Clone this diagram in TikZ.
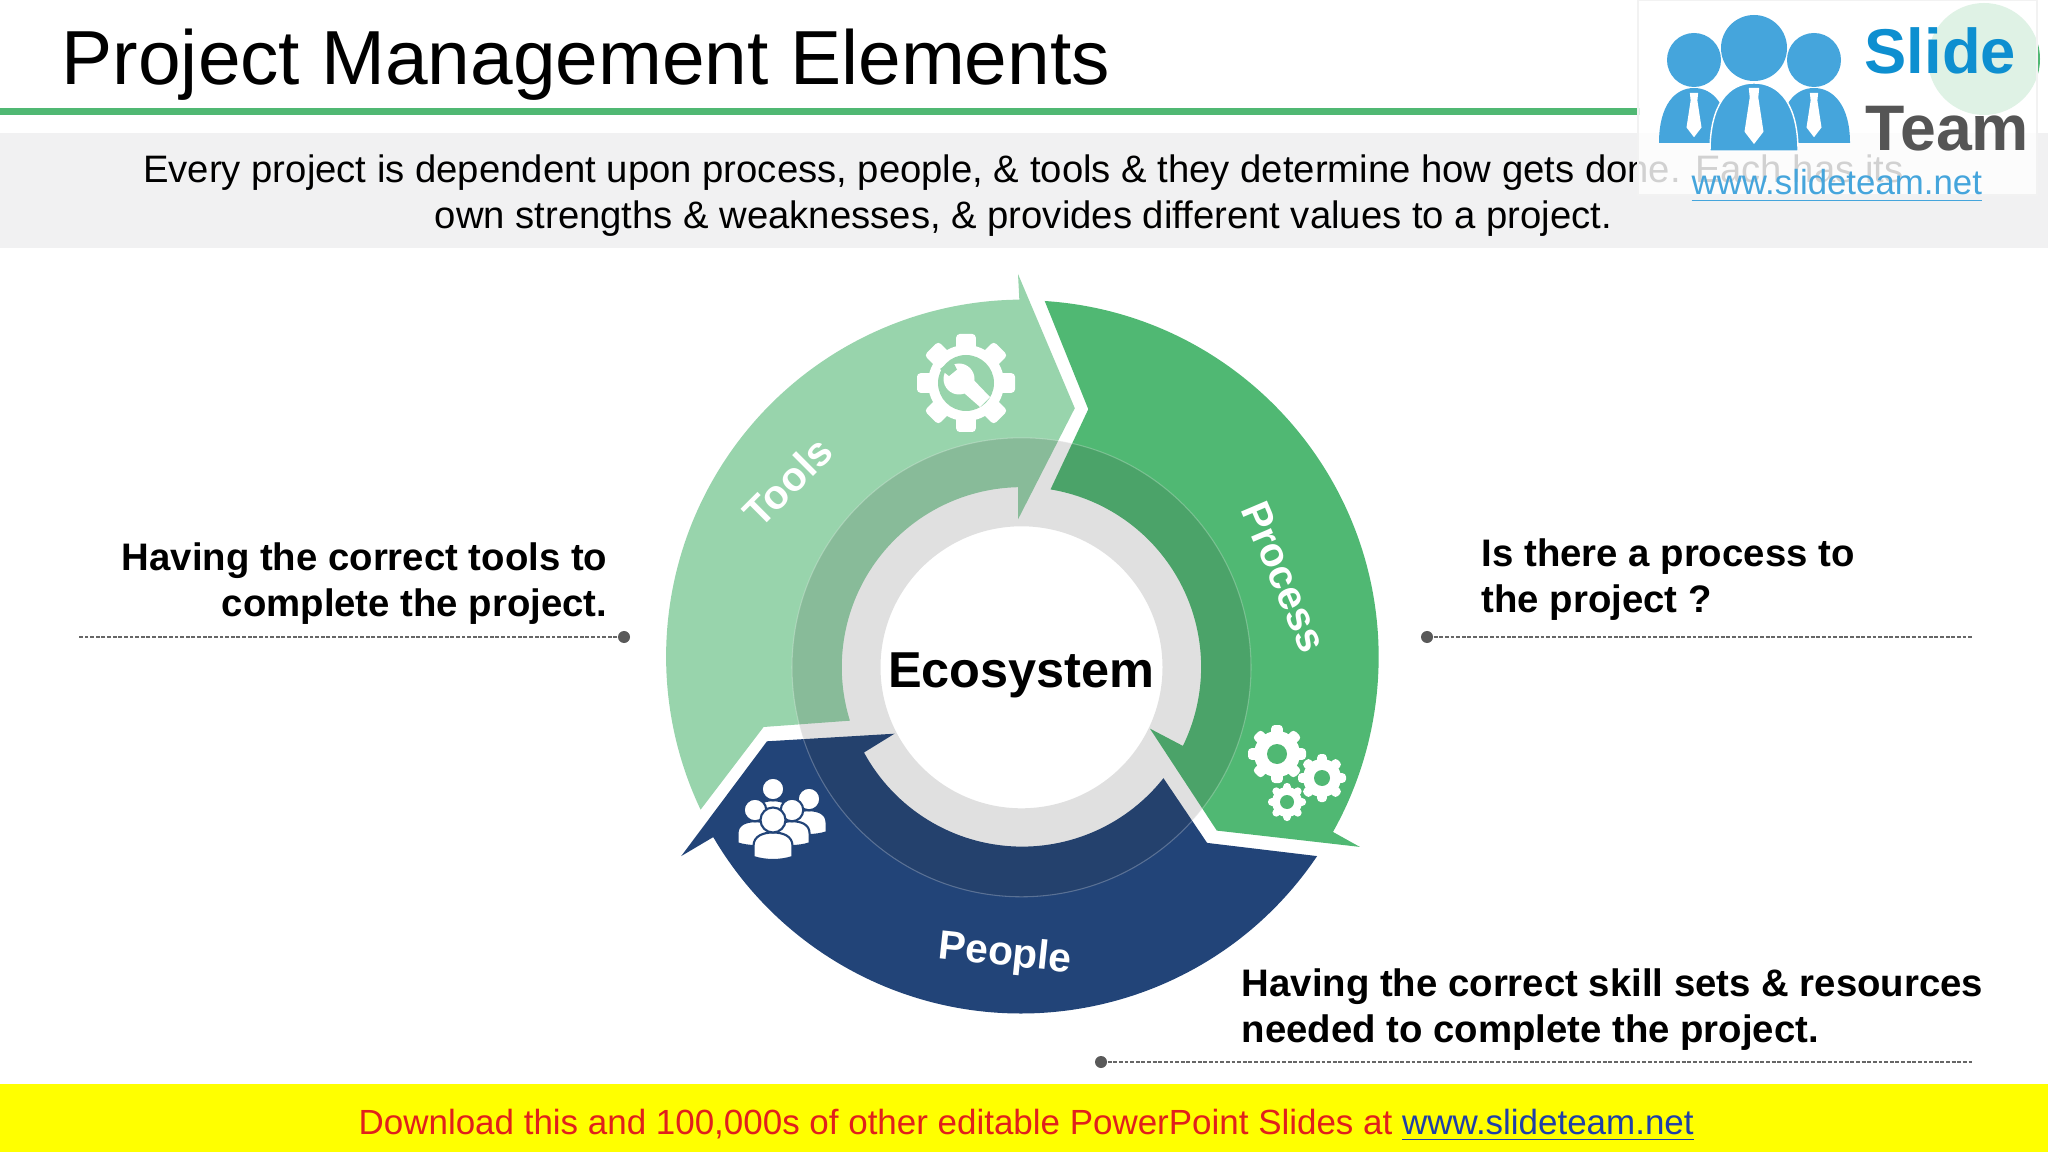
\documentclass[tikz,border=0pt]{standalone}
\usepackage{fontspec}
\setmainfont{Liberation Sans}
\definecolor{toolsc}{HTML}{98D4AC}
\definecolor{processc}{HTML}{50B873}
\definecolor{peoplec}{HTML}{224478}
\definecolor{ringc}{HTML}{303030}
\definecolor{logoc}{HTML}{45A5DC}
\definecolor{slidec}{HTML}{0E8FD0}
\definecolor{teamc}{HTML}{555555}
\definecolor{bandc}{HTML}{F1F1F2}
\definecolor{jaune}{HTML}{FFFF00}
\definecolor{rouge}{HTML}{E0201C}
\definecolor{lien}{HTML}{1F3FA8}

\newcommand{\gearicon}[6]{
	\begin{scope}[shift={(#1,#2)}]
		\fill[white] (0,0) circle (#4);
		\foreach \a in {0,45,...,315} {
			\fill[white, rounded corners=1pt, rotate=\a] (-#3*0.2,0) rectangle (#3*0.2,#3);
		}
		\fill[#6] (0,0) circle (#5);
	\end{scope}
}
\newcommand{\personicon}[3]{
	\begin{scope}[shift={(#1,#2)}, scale=#3]
		\filldraw[white, draw=peoplec, line width=0.6pt] (-19.5,-38) -- (-19.5,-26) .. controls (-19.5,-16) and (-10,-12.5) .. (0,-12.5) .. controls (10,-12.5) and (19.5,-16) .. (19.5,-26) -- (19.5,-37) .. controls (8,-41) and (-8,-41) .. (-19.5,-37) -- cycle;
		\filldraw[white, draw=peoplec, line width=0.6pt] (0,0) circle (12.5);
	\end{scope}
}
\newcommand{\tieicon}[3]{
	\fill[white] (#1-#3*0.55,#2) -- (#1+#3*0.55,#2) -- (#1+#3*0.45,#2-#3) -- (#1+#3,#2-#3*4.6) -- (#1,#2-#3*5.9) -- (#1-#3,#2-#3*4.6) -- (#1-#3*0.45,#2-#3) -- cycle;
}

\begin{document}
\begin{tikzpicture}[x=0.01cm, y=0.01cm]
	\tikzset{titre/.style={inner sep=0, font=\fontsize{21.8}{26}\selectfont},
		soustitre/.style={inner sep=0, align=center, font=\fontsize{10.88}{13.1}\selectfont},
		note/.style={inner sep=0, font=\bfseries\fontsize{10.9}{13.1}\selectfont},
		etiquette/.style={inner sep=0, text=white, font=\bfseries\fontsize{11.6}{13}\selectfont},
		leader/.style={dash pattern=on 1.1pt off 0.5pt, draw=black!60, line width=0.35pt},
		dot/.style={circle, fill=black!65, inner sep=0, minimum size=0.12cm}};

	\useasboundingbox (0,0) rectangle (2048,-1152);

	% bands
	\fill[bandc] (0,-133) rectangle (2048,-248);
	\fill[jaune] (0,-1084) rectangle (2048,-1152);
	\fill[processc] (0,-108.5) rectangle (1640,-115.5);
	\fill[processc] (1984,-59) circle (56);

	\node[titre, anchor=base west] (title) at (61,-85) {Project Management Elements};
	\node[soustitre] (sub) at (1023.5,-195.6) {Every project is dependent upon process, people, \& tools \& they determine how gets done. Each has its\\own strengths \& weaknesses, \& provides different values to a project.};

	% logo
	\fill[white, fill opacity=0.82, draw=black!5] (1638,0) rectangle (2037,-195);
	\fill[logoc] (1694,-60) circle (27);
	\fill[logoc] (1814,-60) circle (27);
	\fill[logoc] (1754,-48) circle (33);
	\fill[logoc] (1659,-143) .. controls (1659,-105) and (1675,-88) .. (1694,-88) .. controls (1713,-88) and (1729,-105) .. (1729,-143) -- cycle;
	\fill[logoc] (1779,-143) .. controls (1779,-105) and (1795,-88) .. (1814,-88) .. controls (1833,-88) and (1850,-105) .. (1850,-143) -- cycle;
	\filldraw[logoc, draw=white, line width=0.4pt] (1710,-151) .. controls (1710,-105) and (1728,-83) .. (1754,-83) .. controls (1780,-83) and (1798,-105) .. (1798,-151) -- cycle;
	\tieicon{1694}{-93}{7.5}
	\tieicon{1754}{-88}{9.5}
	\tieicon{1814}{-93}{7.5}
	\node[inner sep=0, anchor=base west, text=slidec, font=\bfseries\fontsize{18}{20}\selectfont] (slide) at (1864,-74) {Slide};
	\node[inner sep=0, anchor=base west, text=teamc, font=\bfseries\fontsize{18.3}{20}\selectfont] (team) at (1865,-151) {Team};
	\node[inner sep=0, anchor=base west, text=logoc, font=\fontsize{9.9}{12}\selectfont] (url) at (1691,-195) {\underline{www.slideteam.net}};

	% arrows
	\fill[toolsc] (700.6,-809.7) arc[start angle=205.4, end angle=90.6, radius=357] -- (1018,-274) -- (1074.8,-408.2) -- (1018,-519.4) -- (1018,-487.2) arc[start angle=91.2, end angle=197.3, radius=180] -- (763.6,-727) -- cycle;
	\fill[processc] (1044.7,-301) arc[start angle=86.3, end angle=-29.3, radius=357] -- (1359.8,-846.9) -- (1216.8,-830.6) -- (1149.9,-728.6) -- (1182.9,-745.9) arc[start angle=-26, end angle=80.6, radius=180] -- (1088.3,-409.2) -- cycle;
	\fill[peoplec] (1317.1,-856.1) arc[start angle=-34, end angle=-149.6, radius=357] -- (681.2,-856.1) -- (767,-741.3) -- (894.5,-733.7) -- (864,-752.5) arc[start angle=-151.5, end angle=-38.3, radius=180] -- (1207.1,-842.9) -- cycle;
	\fill[ringc, fill opacity=0.15, even odd rule] (1021.5,-667.3) circle (229.5) (1021.5,-667.3) circle (141);
	\draw[white, opacity=0.25, line width=0.3pt] (1021.5,-667.3) circle (229.5);

	\node[inner sep=0, font=\bfseries\fontsize{14.35}{16}\selectfont] (eco) at (1021.5,-675) {Ecosystem};
	\node[etiquette, rotate=45] (tools) at (787.5,-482) {Tools};
	\node[etiquette, rotate=-67] (process) at (1284,-577) {Process};
	\node[etiquette, rotate=-6] (people) at (1005,-955) {People};

	% icons
	\gearicon{966}{-383}{49}{38}{28}{toolsc}
	\fill[white] (966,-372) -- (990,-397) -- (980,-407) -- (956,-386) -- cycle;
	\fill[white] (959,-379) circle (15.5);
	\fill[toolsc] (949,-376) -- (957,-369.5) -- (952,-360) -- (940,-369) -- cycle;
	\gearicon{1277}{-754}{29}{23}{10}{processc}
	\gearicon{1322}{-778}{24}{19}{8}{processc}
	\gearicon{1287}{-802}{19}{15}{7}{processc}
	\personicon{773}{-789}{0.9}
	\personicon{809}{-799}{0.9}
	\personicon{755}{-810}{0.9}
	\personicon{792}{-810}{0.9}
	\personicon{773}{-820}{1}

	% notes
	\node[note, anchor=east, align=right] (note1) at (608,-583.6) {Having the correct tools to\\complete the project.};
	\node[note, anchor=west, align=left] (note2) at (1481,-579.6) {Is there a process to\\the project ?};
	\node[note, anchor=west, align=left] (note3) at (1241,-1009.6) {Having the correct skill sets \& resources\\needed to complete the project.};

	\node[dot] (dot1) at (624,-637) {};
	\node[dot] (dot2) at (1427,-637) {};
	\node[dot] (dot3) at (1101,-1062) {};
	\coordinate (end1) at (78,-637);
	\coordinate (end2) at (1973,-637);
	\coordinate (end3) at (1973,-1062);
	\draw[leader] (dot1) -- (end1);
	\draw[leader] (dot2) -- (end2);
	\draw[leader] (dot3) -- (end3);

	\node[inner sep=0, anchor=base west, text=rouge, font=\fontsize{9.94}{12}\selectfont] (pub) at (358,-1134) {Download this and 100,000s of other editable PowerPoint Slides at \textcolor{lien}{\underline{www.slideteam.net}}};
\end{tikzpicture}
\end{document}
